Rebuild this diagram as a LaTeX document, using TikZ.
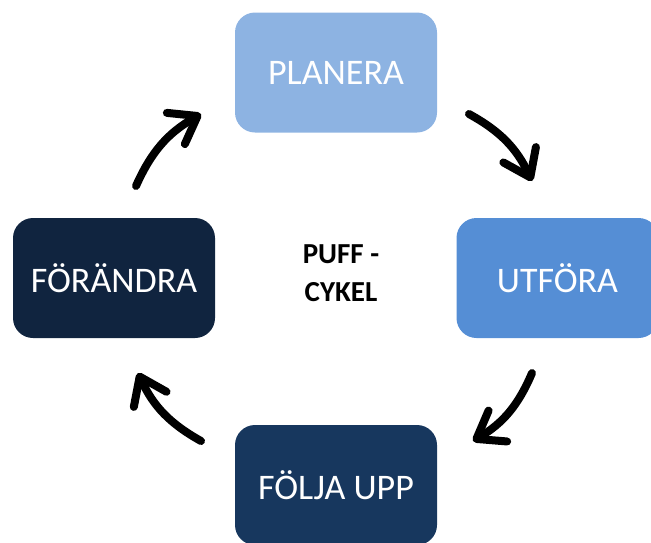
\documentclass[tikz,border=0pt]{standalone}
\usepackage{fontspec}
\setmainfont{Carlito}
\usetikzlibrary{arrows.meta}
\definecolor{cPlan}{HTML}{8DB3E2}
\definecolor{cUtf}{HTML}{558ED5}
\definecolor{cFolj}{HTML}{17375E}
\definecolor{cForand}{HTML}{10243F}
\tikzset{
  stepbox/.style={rectangle, rounded corners=20pt, minimum width=202pt, minimum height=120pt,
    text=white, font=\fontsize{36}{40}\selectfont, inner sep=0pt},
  cyclearrow/.style={line width=8pt, line cap=round, line join=round,
    -{Straight Barb[length=25pt, width=36pt, line cap=round, line join=round]}, bend left=18}
}
\begin{document}
\begin{tikzpicture}[x=1pt, y=-1pt]
\useasboundingbox (0,0) rectangle (651,542);
\node[stepbox, fill=cPlan] (plan) at (336,72.5) {PLANERA};
\node[stepbox, fill=cUtf] (utf) at (557.5,278) {UTFÖRA};
\node[stepbox, fill=cFolj] (folj) at (336,485) {FÖLJA UPP};
\node[stepbox, fill=cForand] (forand) at (114,278) {FÖRÄNDRA};
\node[align=center, font=\bfseries\fontsize{29}{38}\selectfont] (title) at (341,273) {PUFF -\\CYKEL};
\coordinate (a1s) at (136,186);
\coordinate (a1e) at (201,114);
\coordinate (a2s) at (469,114);
\coordinate (a2e) at (532,181);
\coordinate (a3s) at (532,373);
\coordinate (a3e) at (473,441);
\coordinate (a4s) at (201,441);
\coordinate (a4e) at (138,373);
\draw[cyclearrow] (a1s) to (a1e);
\draw[cyclearrow] (a2s) to (a2e);
\draw[cyclearrow] (a3s) to (a3e);
\draw[cyclearrow] (a4s) to (a4e);
\end{tikzpicture}
\end{document}
